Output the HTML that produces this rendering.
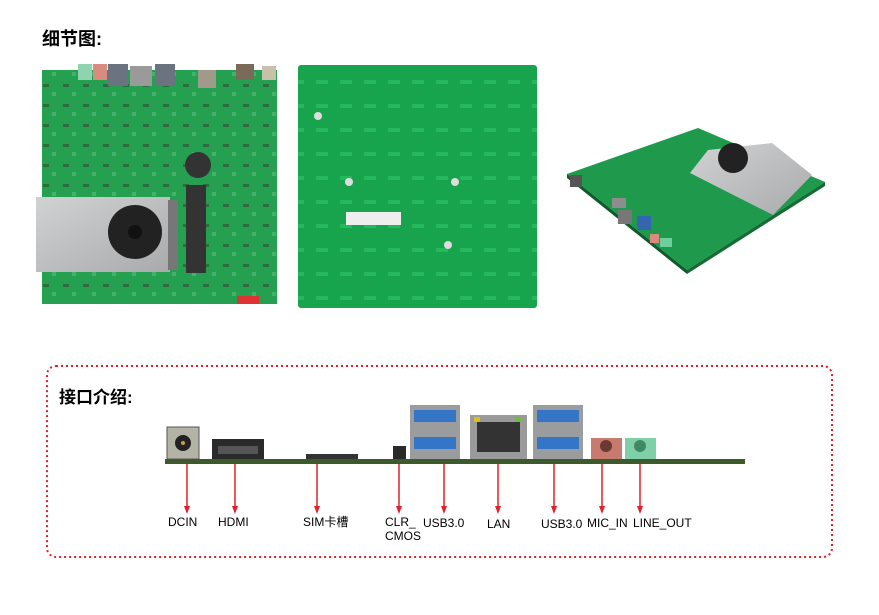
<!DOCTYPE html>
<html><head><meta charset="utf-8"><style>
html,body{margin:0;padding:0;background:#fff;width:879px;height:615px;overflow:hidden}
.t{position:absolute;font-family:"Liberation Sans","Noto Sans CJK SC",sans-serif;font-weight:bold;color:#000}
svg{position:absolute;left:0;top:0}
.l{font-family:"Liberation Sans","Noto Sans CJK SC",sans-serif;font-size:12px;fill:#000}
</style></head><body>
<div class="t" style="left:42px;top:25px;font-size:18px">细节图:</div>
<div class="t" style="left:59px;top:383px;font-size:17px">接口介绍:</div>
<svg width="879" height="615" viewBox="0 0 879 615">
<defs>
<pattern id="p" width="20" height="20" patternUnits="userSpaceOnUse">
<rect width="20" height="20" fill="#24a050"/><rect x="3" y="4" width="6" height="3" fill="#2f6a40"/><rect x="12" y="12" width="4" height="4" fill="#45b26c"/>
</pattern>
<pattern id="p2" width="24" height="24" patternUnits="userSpaceOnUse">
<rect width="24" height="24" fill="#18a44c"/><rect x="4" y="8" width="12" height="4" fill="#26b85c"/>
</pattern>
<linearGradient id="hs" x1="0" y1="0" x2="1" y2="1"><stop offset="0" stop-color="#d0d2d4"/><stop offset="1" stop-color="#a8aaac"/></linearGradient>
</defs>
<!-- board 1 -->
<rect x="42" y="70" width="235" height="234" fill="url(#p)"/>
<rect x="78" y="64" width="14" height="16" fill="#8fd3b0"/><rect x="93" y="64" width="14" height="16" fill="#d98b80"/>
<rect x="108" y="64" width="20" height="22" fill="#6b7280"/><rect x="130" y="66" width="22" height="20" fill="#9a9a9a"/><rect x="155" y="64" width="20" height="22" fill="#6b7280"/>
<rect x="198" y="70" width="18" height="18" fill="#a09a8a"/><rect x="236" y="64" width="18" height="16" fill="#7a6a5a"/><rect x="262" y="66" width="14" height="14" fill="#c8c0a8"/>
<rect x="186" y="185" width="20" height="88" fill="#333"/>
<circle cx="198" cy="165" r="13" fill="#333"/>
<rect x="36" y="197" width="134" height="75" fill="url(#hs)"/>
<rect x="168" y="200" width="10" height="70" fill="#777"/>
<circle cx="135" cy="232" r="27" fill="#222"/><circle cx="135" cy="232" r="7" fill="#111"/>
<rect x="237" y="296" width="22" height="8" fill="#d33"/>
<!-- board 2 -->
<rect x="298" y="65" width="239" height="243" rx="3" fill="url(#p2)"/>
<rect x="346" y="212" width="55" height="13" fill="#eee"/>
<circle cx="349" cy="182" r="4" fill="#ddd"/><circle cx="455" cy="182" r="4" fill="#ddd"/><circle cx="448" cy="245" r="4" fill="#ddd"/><circle cx="318" cy="116" r="4" fill="#ddd"/>
<!-- board 3 -->
<polygon points="567,174 698,128 825,182 687,270" fill="#1f9a4c"/>
<polygon points="567,174 687,270 687,274 567,178" fill="#0d5a2a"/>
<polygon points="687,270 825,182 825,186 687,274" fill="#146b34"/>
<polygon points="708,150 772,143 812,175 773,215 690,173" fill="url(#hs)"/>
<circle cx="733" cy="158" r="15" fill="#222"/>
<rect x="612" y="198" width="14" height="10" fill="#8d8d8d"/><rect x="618" y="210" width="14" height="14" fill="#777"/><rect x="637" y="216" width="14" height="14" fill="#3466b0"/>
<rect x="650" y="234" width="9" height="9" fill="#d98b80"/><rect x="660" y="238" width="12" height="9" fill="#6ccf9c"/>
<rect x="570" y="175" width="12" height="12" fill="#555"/>
<!-- dashed box -->
<rect x="47" y="366" width="785" height="191" rx="9" fill="none" stroke="#e4202a" stroke-width="2" stroke-dasharray="2,3"/>
<!-- IO strip -->
<rect x="165" y="459" width="580" height="5" fill="#3c5a2c"/>
<rect x="167" y="427" width="32" height="32" fill="#b5b2a6" stroke="#555"/><circle cx="183" cy="443" r="8" fill="#222"/><circle cx="183" cy="443" r="2" fill="#c9a040"/>
<rect x="212" y="439" width="52" height="20" fill="#2a2a2a"/><rect x="218" y="446" width="40" height="8" fill="#555"/>
<rect x="306" y="454" width="52" height="5" fill="#333"/>
<rect x="393" y="446" width="13" height="13" fill="#2a2a2a"/>
<rect x="410" y="405" width="50" height="54" fill="#9a9c9e"/><rect x="414" y="410" width="42" height="12" fill="#3575c8"/><rect x="414" y="437" width="42" height="12" fill="#3575c8"/>
<rect x="470" y="415" width="57" height="44" fill="#9a9a9a"/><rect x="477" y="422" width="43" height="30" fill="#333"/><rect x="474" y="417" width="6" height="5" fill="#d9c020"/><rect x="515" y="417" width="6" height="5" fill="#6fc030"/>
<rect x="533" y="405" width="50" height="54" fill="#9a9c9e"/><rect x="537" y="410" width="42" height="12" fill="#3575c8"/><rect x="537" y="437" width="42" height="12" fill="#3575c8"/>
<rect x="591" y="438" width="31" height="21" fill="#c97a6e"/><circle cx="606" cy="446" r="6" fill="#6a3a32"/>
<rect x="625" y="438" width="31" height="21" fill="#7fcfa8"/><circle cx="640" cy="446" r="6" fill="#3f8a64"/>
<g stroke="#e4202a" stroke-width="1.5">
<line x1="187" y1="464" x2="187" y2="510"/><line x1="235" y1="464" x2="235" y2="510"/><line x1="317" y1="464" x2="317" y2="510"/><line x1="399" y1="464" x2="399" y2="510"/><line x1="444" y1="464" x2="444" y2="510"/><line x1="498" y1="464" x2="498" y2="510"/><line x1="554" y1="464" x2="554" y2="510"/><line x1="602" y1="464" x2="602" y2="510"/><line x1="640" y1="464" x2="640" y2="510"/>
</g>
<g fill="#e4202a">
<polygon points="184,506 190,506 187,514"/><polygon points="232,506 238,506 235,514"/><polygon points="314,506 320,506 317,514"/><polygon points="396,506 402,506 399,514"/><polygon points="441,506 447,506 444,514"/><polygon points="495,506 501,506 498,514"/><polygon points="551,506 557,506 554,514"/><polygon points="599,506 605,506 602,514"/><polygon points="637,506 643,506 640,514"/>
</g>
<text class="l" x="168" y="526">DCIN</text>
<text class="l" x="218" y="526">HDMI</text>
<text class="l" x="303" y="526">SIM卡槽</text>
<text class="l" x="385" y="526">CLR_</text>
<text class="l" x="385" y="540">CMOS</text>
<text class="l" x="423" y="527">USB3.0</text>
<text class="l" x="487" y="528">LAN</text>
<text class="l" x="541" y="528">USB3.0</text>
<text class="l" x="587" y="527">MIC_IN</text>
<text class="l" x="633" y="527">LINE_OUT</text>
</svg>
</body></html>
